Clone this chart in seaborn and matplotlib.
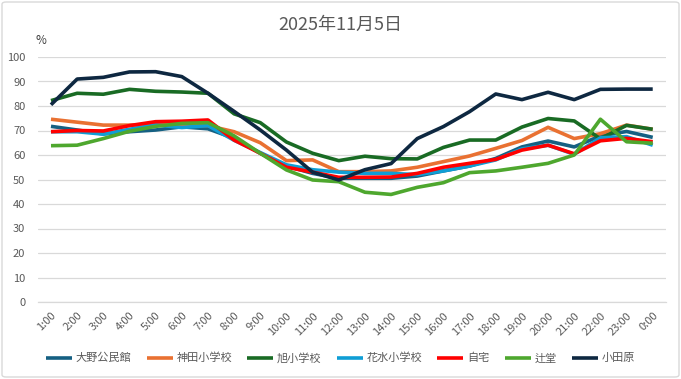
import matplotlib
matplotlib.use("Agg")
import matplotlib.pyplot as plt
import seaborn as sns
import pandas as pd
from matplotlib.patches import FancyBboxPatch

sns.set_theme(style="white")
plt.rcParams['font.family'] = ['Noto Sans CJK JP', 'DejaVu Sans']

hours = ["1:00", "2:00", "3:00", "4:00", "5:00", "6:00", "7:00", "8:00", "9:00", "10:00",
         "11:00", "12:00", "13:00", "14:00", "15:00", "16:00", "17:00", "18:00", "19:00",
         "20:00", "21:00", "22:00", "23:00", "0:00"]

ono      = [71.7, 70.2, 68.6, 69.5, 70.2, 71.5, 70.7, 66.8, 60.7, 55.5, 52.5, 50.5,
            50.5, 50.5, 51.4, 53.5, 55.5, 58.6, 63.3, 65.7, 63.3, 67.8, 69.6, 67.2]
kanda    = [74.6, 73.4, 72.2, 72.2, 72.5, 72.0, 72.0, 69.5, 65.0, 57.7, 58.0, 53.2,
            53.2, 53.5, 55.0, 57.3, 59.6, 62.7, 65.9, 71.3, 66.7, 68.7, 72.2, 70.5]
asahi    = [82.2, 85.2, 84.8, 86.8, 86.0, 85.7, 85.2, 76.8, 73.2, 65.3, 60.7, 57.7,
            59.5, 58.5, 58.4, 63.1, 66.1, 66.1, 71.4, 74.9, 73.9, 66.6, 72.1, 70.5]
hanamizu = [69.5, 69.5, 68.5, 70.5, 72.3, 71.2, 72.0, 66.0, 61.0, 56.0, 54.0, 53.0,
            52.5, 52.5, 52.0, 53.5, 55.5, 58.0, 62.5, 64.0, 60.3, 67.0, 67.5, 64.0]
jitaku   = [69.5, 70.0, 69.8, 72.0, 73.6, 73.8, 74.3, 66.1, 60.7, 55.0, 53.0, 50.9,
            50.9, 51.0, 52.5, 55.0, 56.6, 58.2, 62.0, 64.0, 60.5, 65.8, 66.8, 65.4]
tsujido  = [63.8, 64.0, 66.7, 69.7, 71.7, 72.9, 73.2, 67.8, 60.7, 53.9, 49.8, 49.1,
            44.8, 43.9, 46.8, 48.7, 52.8, 53.5, 55.0, 56.6, 60.0, 74.6, 65.4, 64.8]
odawara  = [80.5, 91.0, 91.7, 93.9, 94.0, 92.0, 85.2, 77.8, 70.2, 62.0, 53.0, 49.8,
            54.0, 56.5, 66.7, 71.6, 77.7, 84.9, 82.6, 85.6, 82.6, 86.8, 86.9, 86.9]

names = ["大野公民館", "神田小学校", "旭小学校", "花水小学校", "自宅", "辻堂", "小田原"]
series = [ono, kanda, asahi, hanamizu, jitaku, tsujido, odawara]
colors = ["#156082", "#E97132", "#196B24", "#0F9ED5", "#FF0000", "#4EA72E", "#0E2841"]
widths = [2.1, 2.1, 2.1, 2.1, 3.0, 2.1, 2.1]

rows = []
for n, vals in zip(names, series):
    for i, (h, v) in enumerate(zip(hours, vals)):
        rows.append({"idx": i, "hour": h, "series": n, "value": v})
df = pd.DataFrame(rows)

fig = plt.figure(figsize=(6.81, 3.79), dpi=100)
ax = fig.add_axes([37.9 / 681, 1 - 302 / 379, (665.8 - 37.9) / 681, (302 - 57) / 379])

for n, c, w in zip(names, colors, widths):
    sub = df[df["series"] == n]
    sns.lineplot(data=sub, x="idx", y="value", color=c, linewidth=w, ax=ax,
                 label=n, sort=False, solid_capstyle="butt", solid_joinstyle="round")

ax.set_xlim(-0.5, len(hours) - 0.5)
ax.set_ylim(0, 100)
ax.set_yticks(range(0, 101, 10))
ax.set_xticks(range(len(hours)))
ax.set_xticklabels(hours, rotation=45, ha="right", rotation_mode="anchor")
ax.tick_params(axis="x", length=0, pad=6, labelsize=8, labelcolor="#595959")
ax.tick_params(axis="y", length=0, pad=9, labelsize=8, labelcolor="#595959")
ax.grid(axis="y", color="#D9D9D9", linewidth=0.9)
ax.grid(axis="x", visible=False)
ax.set_axisbelow(True)
for s in ["left", "right", "top"]:
    ax.spines[s].set_visible(False)
ax.spines["bottom"].set_color("#D9D9D9")
ax.spines["bottom"].set_linewidth(0.9)
ax.set_xlabel("")
ax.set_ylabel("")

fig.text(41 / 681, 1 - 40 / 379, "%", fontsize=8.5, color="#404040", ha="center", va="center")
fig.text(340 / 681, 1 - 25 / 379, "2025年11月5日", fontsize=13, color="#595959",
         ha="center", va="center")

ax.get_legend().remove()
handles, labels = ax.get_legend_handles_labels()
for h in handles:
    h.set_linewidth(2.6)
leg = fig.legend(handles, labels, loc="center", bbox_to_anchor=(0.5, 1 - 358 / 379), ncol=7,
                 frameon=False, fontsize=8, handlelength=2.35, handletextpad=0.35,
                 columnspacing=1.35, labelcolor="#595959")

border = FancyBboxPatch((2 / 681, 2 / 379), 677 / 681, 375 / 379,
                        boxstyle="round,pad=0,rounding_size=0.006",
                        transform=fig.transFigure, facecolor="none",
                        edgecolor="#D9D9D9", linewidth=1.0)
fig.patches.append(border)

fig.savefig("out.png", dpi=100)
